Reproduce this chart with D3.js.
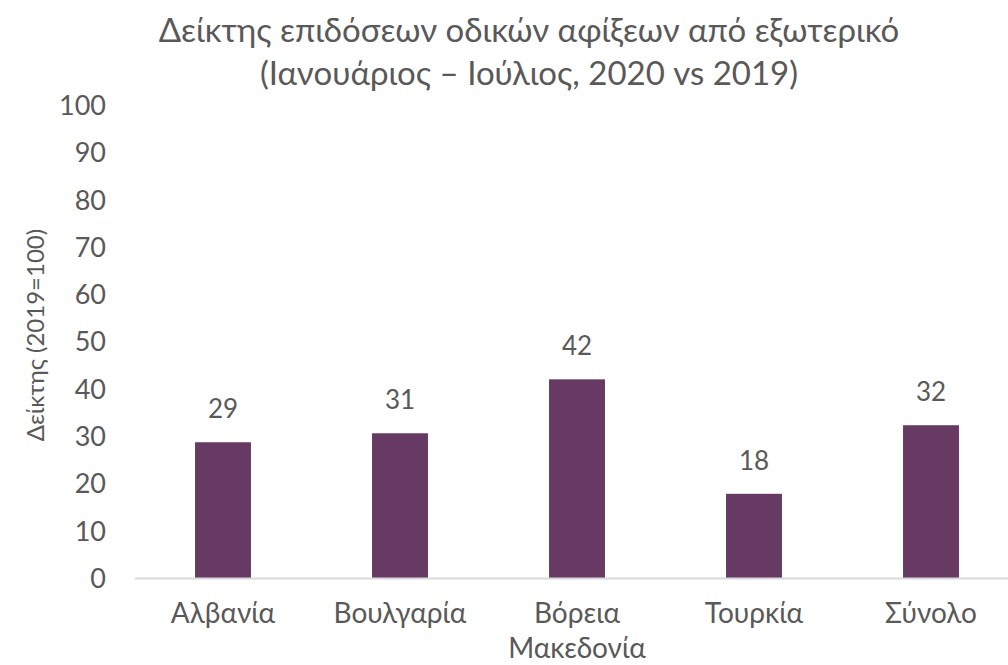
<!DOCTYPE html>
<html><head><meta charset="utf-8">
<script src="https://cdn.jsdelivr.net/npm/d3@7"></script>
<style>body{margin:0;background:#fff;} text{font-family:Lato,"Open Sans",sans-serif;fill:#595959;}</style>
</head><body>
<svg id="c" width="1008" height="665"></svg>
<script>
const categories = [["Αλβανία"],["Βουλγαρία"],["Βόρεια","Μακεδονία"],["Τουρκία"],["Σύνολο"]];
const values = [28.7, 30.6, 42.0, 17.8, 32.3];
const labels = ["29","31","42","18","32"];
const yTicks = [0,10,20,30,40,50,60,70,80,90,100];
const titleLines = ["Δείκτης επιδόσεων οδικών αφίξεων από εξωτερικό","(Ιανουάριος – Ιούλιος, 2020 vs 2019)"];
const yTitle = "Δείκτης (2019=100)";

const svg = d3.select("#c");
const x = d3.scaleBand().domain(d3.range(categories.length)).range([134.5,1019.5]).paddingInner(0.684).paddingOuter(0.342);
const y = d3.scaleLinear().domain([0,100]).range([578,105]);

svg.append("g").selectAll("text").data(titleLines).join("text")
  .attr("x",529).attr("y",(d,i)=>42+i*43).attr("text-anchor","middle")
  .style("font-size","33px").text(d=>d);

svg.append("text").attr("transform","translate(44,335) rotate(-90)")
  .attr("text-anchor","middle").style("font-size","24px").text(yTitle);

const yAxis = svg.append("g").attr("transform","translate(106,0)")
  .call(d3.axisLeft(y).tickValues(yTicks).tickSize(0).tickPadding(0));
yAxis.select(".domain").remove();
yAxis.selectAll("text").style("font-size","27px").attr("fill","#595959").attr("dy","0.35em").style("font-family","Lato,'Open Sans',sans-serif");

svg.append("g").selectAll("rect").data(values).join("rect")
  .attr("x",(d,i)=>x(i)).attr("width",x.bandwidth())
  .attr("y",d=>y(d)).attr("height",d=>y(0)-y(d)).attr("fill","#663a63");

const xAxis = svg.append("g").attr("transform",`translate(0,${y(0)})`)
  .call(d3.axisBottom(x).tickSize(0).tickFormat(""));
xAxis.select(".domain").attr("stroke","#d9d9d9").attr("stroke-width",2);

svg.append("g").selectAll("text").data(categories).join("text")
  .attr("x",(d,i)=>x(i)+x.bandwidth()/2).attr("y",623).attr("text-anchor","middle")
  .style("font-size","28px")
  .each(function(d){
    d3.select(this).selectAll("tspan").data(d).join("tspan")
      .attr("x",d3.select(this).attr("x")).attr("dy",(t,j)=>j?"35px":0).text(t=>t);
  });

svg.append("g").selectAll("text").data(values).join("text")
  .attr("x",(d,i)=>x(i)+x.bandwidth()/2).attr("y",d=>y(d)-24).attr("text-anchor","middle")
  .style("font-size","26px").text((d,i)=>labels[i]);
</script>
</body></html>
